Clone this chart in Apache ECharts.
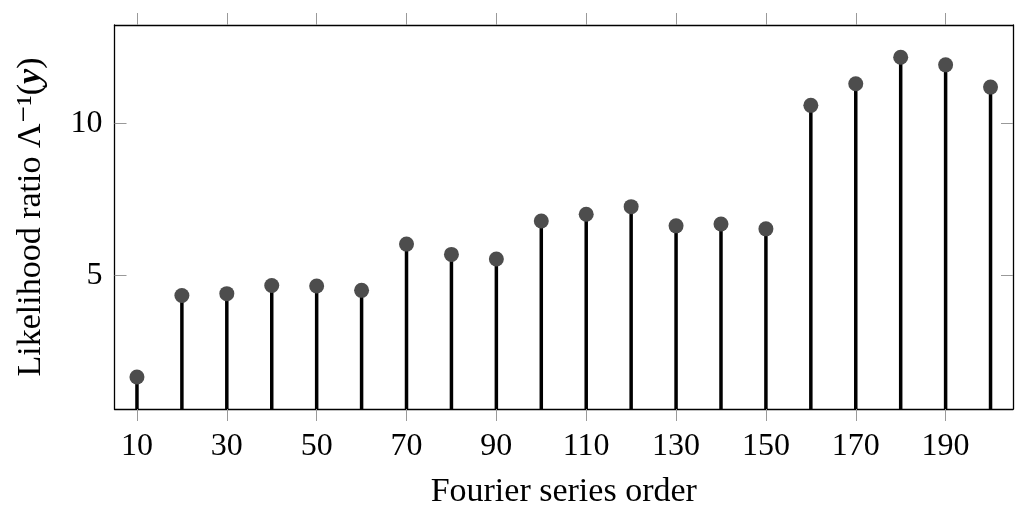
<!DOCTYPE html>
<html>
<head>
<meta charset="utf-8">
<script src="https://cdn.jsdelivr.net/npm/echarts@6/dist/echarts.min.js"></script>
<style>
  html, body { margin: 0; padding: 0; background: #fff; }
  #chart { width: 1024px; height: 514px; }
</style>
</head>
<body>
<div id="chart"></div>
<script>
const orders = [10, 20, 30, 40, 50, 60, 70, 80, 90, 100, 110, 120, 130, 140, 150, 160, 170, 180, 190, 200]
const ratio = [1.67, 4.35, 4.41, 4.68, 4.66, 4.52, 6.04, 5.70, 5.55, 6.80, 7.02, 7.27, 6.64, 6.70, 6.54, 10.60, 11.31, 12.18, 11.93, 11.20]
const xTicks = [10, 30, 50, 70, 90, 110, 130, 150, 170, 190]
const yTicks = [5, 10]

const font = "'Liberation Serif', 'DejaVu Serif', serif"
const points = orders.map((x, i) => [x, ratio[i]])

const chart = echarts.init(document.getElementById('chart'))

const lineStyle = { color: '#000', width: 1.3 }
const tickStyle = { color: '#999', width: 1 }

chart.setOption({
  animation: false,
  grid: { left: 114.5, right: 11, top: 25, bottom: 103.5 },
  xAxis: [
    {
      type: 'value',
      min: 5,
      max: 205,
      name: 'Fourier series order',
      nameLocation: 'middle',
      nameGap: 66,
      nameTextStyle: { fontFamily: font, fontSize: 34, color: '#000' },
      axisLine: { show: true, lineStyle },
      axisTick: { show: true, inside: false, length: 12, lineStyle: tickStyle, customValues: xTicks },
      axisLabel: { fontFamily: font, fontSize: 32, color: '#000', margin: 22, customValues: xTicks },
      splitLine: { show: false },
    },
    {
      type: 'value',
      position: 'top',
      min: 5,
      max: 205,
      axisLine: { show: true, lineStyle },
      axisTick: { show: true, inside: false, length: 12, lineStyle: tickStyle, customValues: xTicks },
      axisLabel: { show: false },
      splitLine: { show: false },
    },
  ],
  yAxis: [
    {
      type: 'value',
      min: 0.62,
      max: 13.24,
      name: 'Likelihood ratio Λ⁻¹({b|y})',
      nameLocation: 'middle',
      nameRotate: 90,
      nameGap: 66,
      nameTextStyle: {
        fontFamily: font,
        fontSize: 34,
        color: '#000',
        rich: {
          b: { fontFamily: font, fontSize: 34, fontWeight: 'bold', fontStyle: 'italic', color: '#000' },
        },
      },
      axisLine: { show: true, lineStyle },
      axisTick: { show: true, inside: true, length: 12, lineStyle: tickStyle, customValues: yTicks },
      axisLabel: { fontFamily: font, fontSize: 32, color: '#000', margin: 12, customValues: yTicks },
      splitLine: { show: false },
    },
    {
      type: 'value',
      position: 'right',
      min: 0.62,
      max: 13.24,
      axisLine: { show: true, lineStyle },
      axisTick: { show: true, inside: true, length: 12, lineStyle: tickStyle, customValues: yTicks },
      axisLabel: { show: false },
      splitLine: { show: false },
    },
  ],
  series: [
    {
      type: 'bar',
      data: points,
      barWidth: 3.5,
      itemStyle: { color: '#000' },
      silent: true,
    },
    {
      type: 'scatter',
      data: points,
      symbol: 'circle',
      symbolSize: 15,
      itemStyle: { color: '#4d4d4d', opacity: 1 },
      z: 3,
    },
  ],
})
</script>
</body>
</html>
